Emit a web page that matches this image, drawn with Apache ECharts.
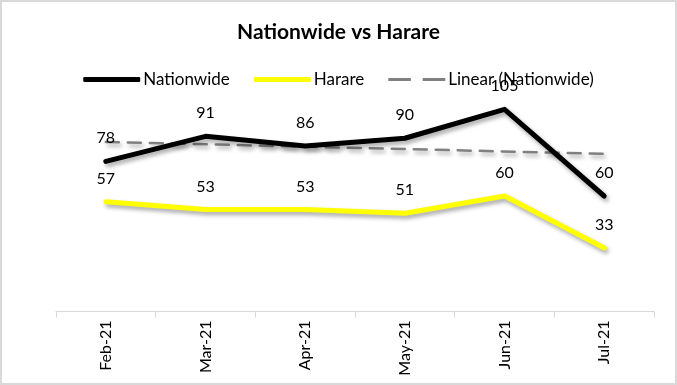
<!DOCTYPE html>
<html>
<head>
<meta charset="utf-8">
<script src="https://cdn.jsdelivr.net/npm/echarts@6/dist/echarts.min.js"></script>
<style>
html,body{margin:0;padding:0;background:#fff;}
#chart{width:677px;height:385px;}
</style>
</head>
<body>
<div id="chart"></div>
<script>
const categories = ['Feb-21','Mar-21','Apr-21','May-21','Jun-21','Jul-21'];
const nationwide = [78, 91, 86, 90, 105, 60];
const harare = [57, 53, 53, 51, 60, 33];
// Linear trend line endpoints
const trendNationwide = [88.1, null, null, null, null, 81.9];

const FONT = 'Lato';
const shadow = {shadowColor:'rgba(0,0,0,0.35)', shadowBlur:4, shadowOffsetX:2, shadowOffsetY:3};
const dataLabel = {show:true, position:'top', distance:15, fontFamily:FONT, fontSize:16, color:'#000'};

const chart = echarts.init(document.getElementById('chart'), null, {renderer:'canvas'});
chart.setOption({
  animation:false,
  backgroundColor:'#fff',
  graphic:[{type:'rect', shape:{x:1,y:1,width:675,height:383}, style:{fill:'none', stroke:'#d9d9d9', lineWidth:2}, silent:true}],
  title:{text:'Nationwide vs Harare', left:'center', top:17,
    textStyle:{fontFamily:FONT, fontSize:21, fontWeight:'bold', color:'#000'}},
  legend:{top:66, left:'center', itemWidth:57, itemHeight:5, itemGap:24,
    textStyle:{fontFamily:FONT, fontSize:17, color:'#000', padding:[0,0,0,-2]},
    data:[
      {name:'Nationwide', icon:'roundRect'},
      {name:'Harare', icon:'roundRect'},
      {name:'Linear (Nationwide)', icon:'path://M0,0H21V3H0Z M32,0H53V3H32Z', itemStyle:{color:'#808080'}}
    ]},
  grid:{left:56, right:23, top:80.5, bottom:73.5, containLabel:false},
  xAxis:{type:'category', data:categories, boundaryGap:true,
    axisLine:{lineStyle:{color:'#d9d9d9', width:1}},
    axisTick:{show:true, length:6, lineStyle:{color:'#d9d9d9'}},
    axisLabel:{rotate:90, fontFamily:FONT, fontSize:16, color:'#000', margin:9}},
  yAxis:{type:'value', min:0, max:120, show:false, splitLine:{show:false}},
  series:[
    {name:'Nationwide', type:'line', data:nationwide, symbol:'circle', symbolSize:0.1, z:3,
      lineStyle:Object.assign({color:'#000', width:5, cap:'round', join:'round'}, shadow),
      itemStyle:{color:'#000'}, label:dataLabel},
    {name:'Harare', type:'line', data:harare, symbol:'circle', symbolSize:0.1, z:3,
      lineStyle:Object.assign({color:'#ffff00', width:5, cap:'round', join:'round'}, shadow),
      itemStyle:{color:'#ffff00'}, label:dataLabel},
    {name:'Linear (Nationwide)', type:'line', data:trendNationwide, connectNulls:true, symbol:'none', z:2,
      lineStyle:Object.assign({color:'#808080', width:2.5, type:[13,9], cap:'round'}, shadow),
      itemStyle:{color:'#808080'}}
  ]
});
</script>
</body>
</html>
